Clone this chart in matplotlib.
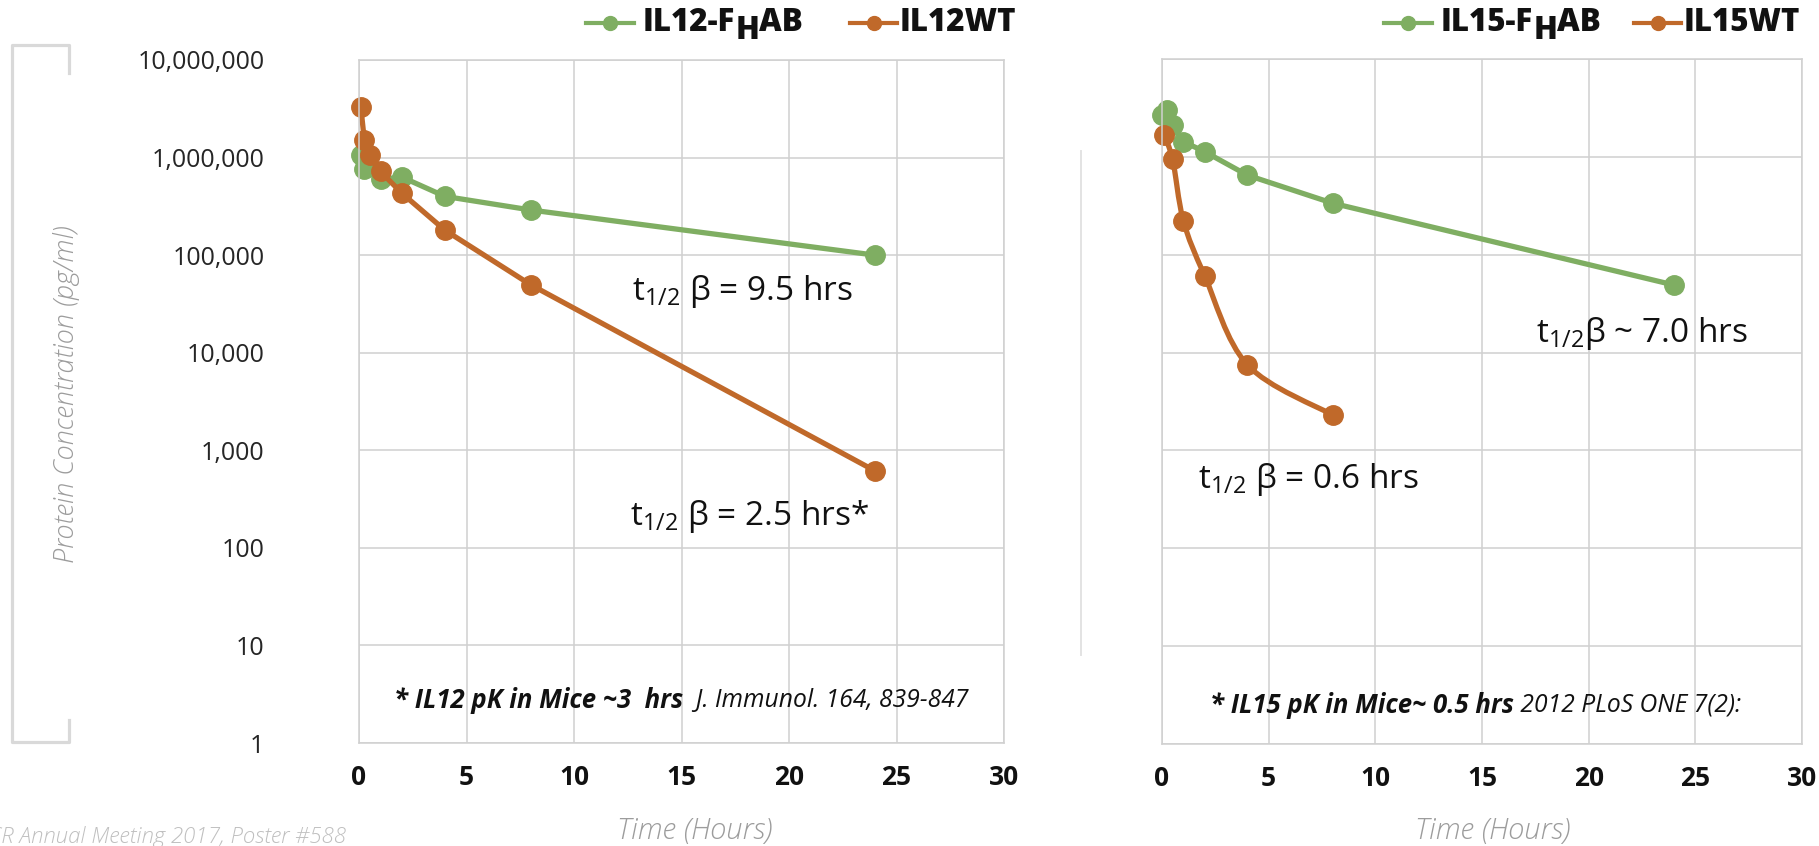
import numpy as np
import matplotlib
matplotlib.use('Agg')
import matplotlib.pyplot as plt
from matplotlib.lines import Line2D
from matplotlib.path import Path
from matplotlib.patches import PathPatch
from matplotlib.text import Annotation
from matplotlib.ticker import NullLocator

W, H = 1819, 846

GREEN = '#7fae62'
ORANGE = '#c0692a'
GRID = '#d0d0d0'
LABEL_GREY = '#9c9c9c'

# IL12 panel (pg/ml vs hours)
il12_fhab_hours = [0.083, 0.25, 1, 2, 4, 8, 24]
il12_fhab = [1.06e6, 7.7e5, 6.0e5, 6.3e5, 4.0e5, 2.9e5, 1.0e5]
il12_wt_hours = [0.083, 0.25, 0.5, 1, 2, 4, 8, 24]
il12_wt = [3.3e6, 1.5e6, 1.06e6, 7.2e5, 4.3e5, 1.8e5, 4.95e4, 615]

# IL15 panel
il15_fhab_hours = [0, 0.25, 0.5, 1, 2, 4, 8, 24]
il15_fhab = [2.7e6, 3.0e6, 2.1e6, 1.43e6, 1.13e6, 6.5e5, 3.36e5, 4.9e4]
il15_wt_hours = [0.083, 0.5, 1, 2, 4, 8]
il15_wt = [1.67e6, 9.4e5, 2.23e5, 6.1e4, 7.5e3, 2.3e3]

y_ticks = [1, 10, 100, 1e3, 1e4, 1e5, 1e6, 1e7]
y_tick_labels = ['1', '10', '100', '1,000', '10,000', '100,000', '1,000,000', '10,000,000']
x_ticks = [0, 5, 10, 15, 20, 25, 30]
x_tick_labels = [str(v) for v in x_ticks]

plt.rcParams['font.family'] = ['Open Sans', 'DejaVu Sans']
plt.rcParams['mathtext.fontset'] = 'custom'
plt.rcParams['mathtext.rm'] = 'Open Sans'

fig = plt.figure(figsize=(W / 100, H / 100), dpi=100)


def fx(x):
    return x / W


def fy(y):
    return 1 - y / H


def make_axes(left, top, right, bottom, show_y):
    ax = fig.add_axes([fx(left), fy(bottom), (right - left) / W, (bottom - top) / H])
    ax.set_yscale('log')
    ax.set_ylim(1, 1e7)
    ax.set_xlim(0, 30)
    if show_y:
        ax.set_yticks(y_ticks, labels=y_tick_labels, fontsize=18, color='#262626')
    else:
        ax.set_yticks(y_ticks, labels=[])
    ax.yaxis.set_minor_locator(NullLocator())
    ax.set_xticks(x_ticks, labels=x_tick_labels, fontsize=19, fontweight='bold', color='#111111')
    ax.grid(True, color=GRID, lw=1.1)
    ax.set_axisbelow(True)
    for s in ax.spines.values():
        s.set_color(GRID)
        s.set_linewidth(1.1)
    ax.tick_params(length=0)
    ax.tick_params(axis='y', pad=68)
    ax.tick_params(axis='x', pad=15)
    return ax


def smooth_path(xs, ys):
    # Catmull-Rom style bezier, done in (x, log y) space
    pts = np.column_stack([xs, np.log10(ys)])
    n = len(pts)
    verts = [pts[0]]
    codes = [Path.MOVETO]
    for i in range(n - 1):
        p0 = pts[max(i - 1, 0)]
        p1, p2 = pts[i], pts[i + 1]
        p3 = pts[min(i + 2, n - 1)]
        verts += [p1 + (p2 - p0) / 6, p2 - (p3 - p1) / 6, p2]
        codes += [Path.CURVE4] * 3
    verts = np.array(verts)
    verts[:, 1] = 10 ** verts[:, 1]
    return Path(verts, codes)


def series(ax, xs, ys, color, smooth=False):
    if smooth:
        ax.add_patch(PathPatch(smooth_path(xs, ys), facecolor='none', edgecolor=color,
                               lw=3.8, clip_on=False, capstyle='round', joinstyle='round'))
        ax.plot(xs, ys, ls='none', marker='o', ms=14, color=color, clip_on=False)
    else:
        ax.plot(xs, ys, color=color, lw=3.8, marker='o', ms=14, clip_on=False,
                solid_joinstyle='round')


ax1 = make_axes(359, 60, 1004, 743, True)
ax2 = make_axes(1162, 59, 1802, 744, False)

series(ax1, il12_fhab_hours, il12_fhab, GREEN)
series(ax1, il12_wt_hours, il12_wt, ORANGE)
series(ax2, il15_fhab_hours, il15_fhab, GREEN)
series(ax2, il15_wt_hours, il15_wt, ORANGE, smooth=True)

# half-life annotations
ann = dict(fontsize=24, color='#111111', ha='left', va='baseline')
fig.text(fx(632), fy(300), r'$\mathregular{t_{1/2}}$ β = 9.5 hrs', **ann)
fig.text(fx(630), fy(525), r'$\mathregular{t_{1/2}}$ β = 2.5 hrs*', **ann)
fig.text(fx(1536), fy(342), r'$\mathregular{t_{1/2}}$β ~ 7.0 hrs', **ann)
fig.text(fx(1198), fy(488), r'$\mathregular{t_{1/2}}$ β = 0.6 hrs', **ann)


def chain(prev, text, dy=0, **kw):
    # place text right after another text object, on the figure
    a = Annotation(text, xy=(1, 0.5), xycoords=prev, xytext=(0, dy),
                   textcoords='offset points', ha='left', va='center', **kw)
    fig.add_artist(a)
    return a


def footnote(x, y, bold_part, plain_part):
    t1 = fig.text(fx(x), fy(y), bold_part, fontsize=18.5, fontweight='bold', style='italic',
                  color='#111111', ha='left', va='center')
    chain(t1, plain_part, fontsize=17.7, style='italic', color='#111111')


footnote(394, 700, '* IL12 pK in Mice ~3  hrs', '  J. Immunol. 164, 839-847')
footnote(1210, 705, '* IL15 pK in Mice~ 0.5 hrs', ' 2012 PLoS ONE 7(2):')


def legend_entry(x0, x1, y, color):
    fig.add_artist(Line2D([fx(x0), fx(x1)], [fy(y), fy(y)], color=color, lw=3))
    fig.add_artist(Line2D([fx((x0 + x1) / 2)], [fy(y)], marker='o', ms=10, color=color))


leg_style = dict(fontsize=22.5, fontweight='heavy', color='#111111')


def fhab_label(x, y, prefix):
    t1 = fig.text(fx(x), fy(y), prefix + '-F', va='center', ha='left', **leg_style)
    t2 = chain(t1, 'H', dy=-6, **leg_style)
    chain(t2, 'AB', dy=6, **leg_style)


legend_entry(586, 634, 23, GREEN)
fhab_label(643, 23, 'IL12')
legend_entry(850, 897, 23, ORANGE)
fig.text(fx(900), fy(23), 'IL12WT', va='center', ha='left', **leg_style)

legend_entry(1384, 1432, 23, GREEN)
fhab_label(1441, 23, 'IL15')
legend_entry(1634, 1681, 23, ORANGE)
fig.text(fx(1684), fy(23), 'IL15WT', va='center', ha='left', **leg_style)

# axis titles
lab = dict(style='italic', fontweight='light', color=LABEL_GREY, ha='center', va='center')
fig.text(fx(66), fy(394), 'Protein Concentration (pg/ml)', rotation=90, fontsize=19.5, **lab)
fig.text(fx(695), fy(831), 'Time (Hours)', fontsize=21, **lab)
fig.text(fx(1493), fy(831), 'Time (Hours)', fontsize=21, **lab)

# bracket at the far left and separator line
bx = [69, 69, 12, 12, 69, 69]
by = [73, 45, 45, 742, 742, 720]
fig.add_artist(Line2D([fx(v) for v in bx], [fy(v) for v in by], color='#d9d9d9', lw=2.3))
fig.add_artist(Line2D([fx(1081), fx(1081)], [fy(151), fy(655)], color='#e3e3e3', lw=1.4))

fig.text(fx(346), fy(826), 'AACR Annual Meeting 2017, Poster #588', fontsize=16,
         style='italic', fontweight='light', color='#bfbfbf', ha='right', va='top')

fig.savefig('out.png', dpi=100)
